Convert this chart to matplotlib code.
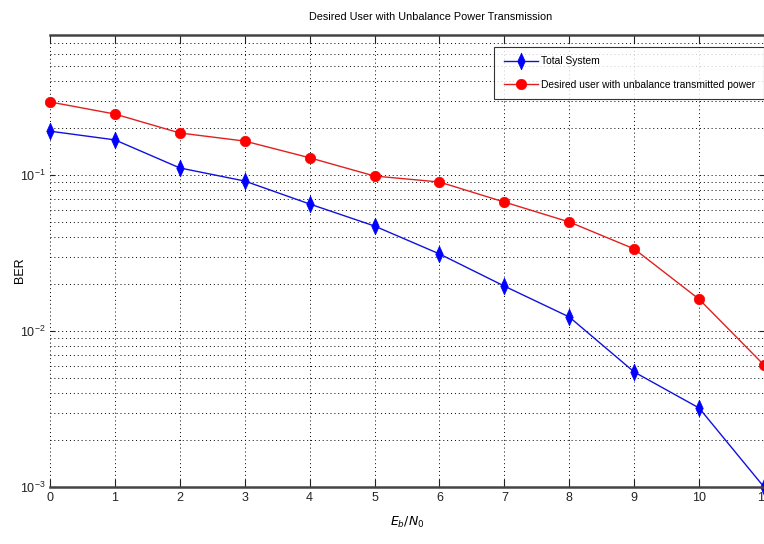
import matplotlib
matplotlib.use("Agg")
import matplotlib.pyplot as plt
from matplotlib.ticker import LogLocator, NullFormatter, FixedLocator
from matplotlib.path import Path
import numpy as np

plt.rcParams['font.family'] = ['Liberation Sans', 'DejaVu Sans']

ebn0 = [0, 1, 2, 3, 4, 5, 6, 7, 8, 9, 10, 11]
ber_total = [0.191, 0.168, 0.111, 0.0915, 0.0652, 0.0471, 0.0312, 0.0194, 0.0123, 0.00546, 0.00321, 0.00100]
ber_desired = [0.294, 0.246, 0.186, 0.165, 0.129, 0.0985, 0.0902, 0.0671, 0.050, 0.0336, 0.0160, 0.00605]
xticks = [0, 1, 2, 3, 4, 5, 6, 7, 8, 9, 10, 11]

title = "Desired User with Unbalance Power Transmission"
xlabel = r"$E_b/N_0$"
ylabel = "BER"
labels = ["Total System", "Desired user with unbalance transmitted power"]

thin_diamond = Path([(0, 1), (0.45, 0), (0, -1), (-0.45, 0), (0, 1)],
                    [Path.MOVETO, Path.LINETO, Path.LINETO, Path.LINETO, Path.CLOSEPOLY])

fig = plt.figure(figsize=(7.64, 5.44), dpi=100)
ax = fig.add_axes([50/764, 57/544, 714/764, 452/544])

ax.semilogy(ebn0, ber_total, '-', color='#1010e0', lw=1.0, marker=thin_diamond, ms=12,
            mfc='#0000ff', mec='#0000ff', markeredgewidth=0.5, label=labels[0], clip_on=False)
ax.semilogy(ebn0, ber_desired, '-', color='#e02020', lw=1.0, marker='o', ms=7.5,
            mfc='#ff0000', mec='#ff0000', markeredgewidth=0.5, label=labels[1], clip_on=False)

ax.set_xlim(0, 11)
ax.set_ylim(1e-3, 0.79)
ax.xaxis.set_major_locator(FixedLocator(xticks))
ax.yaxis.set_major_locator(LogLocator(base=10, numticks=10))
ax.yaxis.set_minor_locator(LogLocator(base=10, subs=np.arange(2, 10), numticks=20))
ax.yaxis.set_minor_formatter(NullFormatter())

gridkw = dict(color='k', linestyle=(0, (1, 3)), linewidth=0.7)
ax.grid(True, which='major', axis='both', **gridkw)
ax.grid(True, which='minor', axis='y', **gridkw)

ax.tick_params(axis='both', which='both', direction='in', top=True, right=True,
               labelsize=9, colors='#222222')
ax.tick_params(axis='y', which='minor', length=0)
ax.tick_params(axis='y', which='major', pad=3)
ax.tick_params(axis='x', which='major', length=6)

for s in ['top', 'bottom']:
    ax.spines[s].set_linewidth(1.8)
    ax.spines[s].set_color('#444444')
ax.spines['left'].set_visible(False)
ax.spines['right'].set_visible(False)

fig.text(431/764, 1 - 17/544, title, ha='center', va='center', fontsize=7.8)
ax.set_xlabel(xlabel, fontsize=9, labelpad=8)
fig.text(20/764, 1 - 270/544, ylabel, rotation=90, ha='center', va='center', fontsize=9)

leg = ax.legend(loc='upper right', bbox_to_anchor=(1.0, 1 - 12/452), fontsize=7.4,
                frameon=True, fancybox=False, edgecolor='k', borderaxespad=0,
                handlelength=3.3, handletextpad=0.3, borderpad=0.9, labelspacing=1.3)
leg.get_frame().set_linewidth(0.8)

fig.savefig("out.png", dpi=100)
